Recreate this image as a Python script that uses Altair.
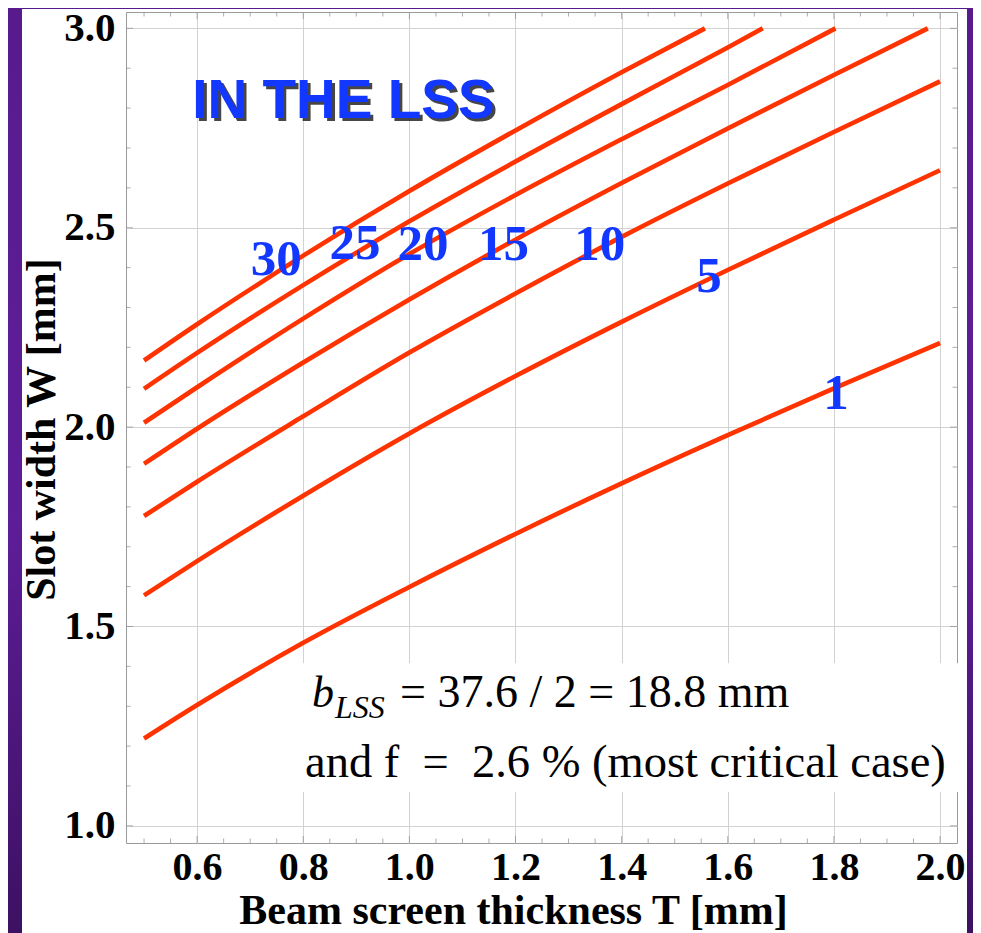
import altair as alt
import pandas as pd

# ---------------- data ----------------
curve_names = ["30", "25", "20", "15", "10", "5", "1"]

c30_T = [0.5, 0.6, 0.8, 1.0, 1.2, 1.4, 1.557]
c30_W = [2.167, 2.258, 2.430, 2.592, 2.744, 2.890, 3.0]

c25_T = [0.5, 0.6, 0.8, 1.0, 1.2, 1.4, 1.6, 1.666]
c25_W = [2.096, 2.186, 2.356, 2.516, 2.666, 2.810, 2.952, 3.0]

c20_T = [0.5, 0.6, 0.8, 1.0, 1.2, 1.4, 1.6, 1.803]
c20_W = [2.011, 2.100, 2.272, 2.434, 2.582, 2.722, 2.858, 3.0]

c15_T = [0.5, 0.6, 0.8, 1.0, 1.2, 1.4, 1.6, 1.8, 1.977]
c15_W = [1.908, 1.996, 2.162, 2.320, 2.470, 2.612, 2.749, 2.883, 3.0]

c10_T = [0.5, 0.6, 0.8, 1.0, 1.2, 1.4, 1.6, 1.8, 2.0]
c10_W = [1.777, 1.863, 2.027, 2.187, 2.335, 2.477, 2.611, 2.740, 2.867]

c5_T = [0.5, 0.6, 0.8, 1.0, 1.2, 1.4, 1.6, 1.8, 2.0]
c5_W = [1.578, 1.664, 1.828, 1.984, 2.128, 2.264, 2.394, 2.520, 2.644]

c1_T = [0.5, 0.6, 0.8, 1.0, 1.2, 1.4, 1.6, 1.8, 2.0]
c1_W = [1.219, 1.303, 1.459, 1.599, 1.732, 1.859, 1.980, 2.097, 2.211]

# curve labels (text, T, W)
label_text = ["30", "25", "20", "15", "10", "5", "1"]
label_T = [0.749, 0.8975, 1.0256, 1.1773, 1.359, 1.5645, 1.804]
label_W = [2.419, 2.458, 2.456, 2.456, 2.457, 2.376, 2.083]

# axis ticks
x_major = [0.6, 0.8, 1.0, 1.2, 1.4, 1.6, 1.8, 2.0]
x_minor = [0.5, 0.55, 0.65, 0.7, 0.75, 0.85, 0.9, 0.95, 1.05, 1.1, 1.15,
           1.25, 1.3, 1.35, 1.45, 1.5, 1.55, 1.65, 1.7, 1.75, 1.85, 1.9, 1.95]
y_major = [1.0, 1.5, 2.0, 2.5, 3.0]
y_minor = [1.1, 1.2, 1.3, 1.4, 1.6, 1.7, 1.8, 1.9, 2.1, 2.2, 2.3, 2.4,
           2.6, 2.7, 2.8, 2.9]

# annotations
title_text = ["IN THE LSS"]
title_T = [0.8758]
title_W = [2.775]

b_text = ["b"]
b_T = [0.8165]
b_W = [1.298]
sub_text = ["LSS"]
sub_T = [0.8598]
sub_W = [1.270]
eq_text = ["= 37.6 / 2 = 18.8 mm"]
eq_T = [0.9823]
eq_W = [1.298]
line2_text = ["and f\u00a0\u00a0=\u00a0\u00a02.6 % (most critical case)"]
line2_T = [0.8033]
line2_W = [1.1223]

box_T = [0.775, 2.041]
box_W = [1.408, 1.085]

# ---------------- tables ----------------
rows = []
for name, Ts, Ws in zip(curve_names,
                        [c30_T, c25_T, c20_T, c15_T, c10_T, c5_T, c1_T],
                        [c30_W, c25_W, c20_W, c15_W, c10_W, c5_W, c1_W]):
    for t, w in zip(Ts, Ws):
        rows.append({"curve": name, "T": t, "W": w})
df_curves = pd.DataFrame(rows)

df_labels = pd.DataFrame({"T": label_T, "W": label_W, "txt": label_text})

df_xt = pd.DataFrame({"T": x_major + x_minor,
                      "len": [14] * len(x_major) + [9] * len(x_minor)})
df_yt = pd.DataFrame({"W": y_major + y_minor,
                      "len": [14] * len(y_major) + [9] * len(y_minor)})

df_box = pd.DataFrame({"T": [box_T[0]], "T2": [box_T[1]],
                       "W": [box_W[0]], "W2": [box_W[1]]})

W_PLOT = 831
H_PLOT = 831

xs = alt.Scale(domain=[0.466, 2.032], nice=False, zero=False)
ys = alt.Scale(domain=[0.957, 3.041], nice=False, zero=False)

SERIF = "Liberation Serif"
BLUE = "#1238ff"
RED = "#ff3300"

x_axis = alt.Axis(
    values=x_major, format=".1f", title="Beam screen thickness T [mm]",
    labelFont=SERIF, labelFontWeight="bold", labelFontSize=40, labelColor="black",
    labelBaseline="alphabetic", labelPadding=36, tickSize=0, ticks=False, domain=False,
    grid=True, gridColor="#d2d2d2", gridWidth=1, labelFlush=False,
    titleFont=SERIF, titleFontWeight="bold", titleFontSize=42, titleColor="black",
    titleX=387, titleY=80, titleAlign="center",
    titleBaseline="alphabetic",
)
y_axis = alt.Axis(
    values=y_major, format=".1f", title="Slot width W [mm]",
    labelFont=SERIF, labelFontWeight="bold", labelFontSize=41, labelColor="black",
    labelBaseline="middle", labelPadding=11, tickSize=0, ticks=False, domain=False,
    grid=True, gridColor="#d2d2d2", gridWidth=1, labelFlush=False,
    titleFont=SERIF, titleFontWeight="bold", titleFontSize=42, titleColor="black",
    titleAngle=270, titleX=-72, titleY=417, titleAlign="center",
    titleBaseline="alphabetic",
)

curves = alt.Chart(df_curves).mark_line(
    color=RED, strokeWidth=4.6, interpolate="monotone", strokeCap="butt"
).encode(
    x=alt.X("T:Q", scale=xs, axis=x_axis),
    y=alt.Y("W:Q", scale=ys, axis=y_axis),
    detail="curve:N",
)

TICK_COLOR = "#8a8a8a"
xt_top = alt.Chart(df_xt).mark_tick(color=TICK_COLOR, thickness=1, clip=True).encode(
    x=alt.X("T:Q", scale=xs), y=alt.value(0),
    size=alt.Size("len:Q", scale=None, legend=None))
xt_bot = alt.Chart(df_xt).mark_tick(color=TICK_COLOR, thickness=1, clip=True).encode(
    x=alt.X("T:Q", scale=xs), y=alt.value(H_PLOT),
    size=alt.Size("len:Q", scale=None, legend=None))
yt_left = alt.Chart(df_yt).mark_tick(color=TICK_COLOR, thickness=1, clip=True).encode(
    y=alt.Y("W:Q", scale=ys), x=alt.value(0),
    size=alt.Size("len:Q", scale=None, legend=None))
yt_right = alt.Chart(df_yt).mark_tick(color=TICK_COLOR, thickness=1, clip=True).encode(
    y=alt.Y("W:Q", scale=ys), x=alt.value(W_PLOT),
    size=alt.Size("len:Q", scale=None, legend=None))

box = alt.Chart(df_box).mark_rect(color="white").encode(
    x=alt.X("T:Q", scale=xs), x2="T2:Q",
    y=alt.Y("W:Q", scale=ys), y2="W2:Q")

labels = alt.Chart(df_labels).mark_text(
    font=SERIF, fontWeight="bold", fontSize=51, color=BLUE,
    align="center", baseline="middle"
).encode(x=alt.X("T:Q", scale=xs),
         y=alt.Y("W:Q", scale=ys), text="txt:N")


def note(Ts, Ws, txts, **kw):
    d = pd.DataFrame({"T": Ts, "W": Ws, "txt": txts})
    return alt.Chart(d).mark_text(**kw).encode(
        x=alt.X("T:Q", scale=xs),
        y=alt.Y("W:Q", scale=ys), text="txt:N")


title_shadow = note(title_T, title_W, title_text, font="Liberation Sans",
                    fontWeight="bold", fontSize=55, color="#181818", opacity=0.8,
                    align="center", baseline="alphabetic", dx=3, dy=3)
title = note(title_T, title_W, title_text, font="Liberation Sans",
             fontWeight="bold", fontSize=55, color=BLUE,
             align="center", baseline="alphabetic")
b_mark = note(b_T, b_W, b_text, font=SERIF, fontStyle="italic", fontSize=44,
              color="black", align="left", baseline="alphabetic")
sub_mark = note(sub_T, sub_W, sub_text, font=SERIF, fontStyle="italic", fontSize=32,
                color="black", align="left", baseline="alphabetic")
eq_mark = note(eq_T, eq_W, eq_text, font=SERIF, fontSize=46,
               color="black", align="left", baseline="alphabetic")
line2_mark = note(line2_T, line2_W, line2_text, font=SERIF, fontSize=46.5,
                  color="black", align="left", baseline="alphabetic")

purple = alt.Gradient(
    gradient="linear", x1=0, x2=0, y1=0, y2=1,
    stops=[alt.GradientStop(offset=0, color="#571b8e"),
           alt.GradientStop(offset=0.55, color="#5e1d99"),
           alt.GradientStop(offset=1, color="#3c1162")])
dummy = pd.DataFrame({"k": [0]})
band_left = alt.Chart(dummy).mark_rect(color=purple).encode(
    x=alt.value(-118), x2=alt.value(-104), y=alt.value(-4), y2=alt.value(921))
band_right = alt.Chart(dummy).mark_rect(color=purple).encode(
    x=alt.value(841), x2=alt.value(847), y=alt.value(-4), y2=alt.value(921))
band_top = alt.Chart(dummy).mark_rect(color="#571b8e").encode(
    x=alt.value(-118), x2=alt.value(847), y=alt.value(-4), y2=alt.value(-3))

chart = alt.layer(
    curves, xt_top, xt_bot, yt_left, yt_right, box,
    labels, title_shadow, title, b_mark, sub_mark, eq_mark, line2_mark,
    band_left, band_right, band_top,
).properties(
    width=W_PLOT, height=H_PLOT,
    autosize=alt.AutoSizeParams(type="none"),
    padding={"left": 118, "top": 4, "right": 16, "bottom": 90},
    background="white",
).configure_view(stroke="#9a9a9a", strokeWidth=1, fill="white")

chart.save("out.html", embed_options={"renderer": "svg", "actions": False})
